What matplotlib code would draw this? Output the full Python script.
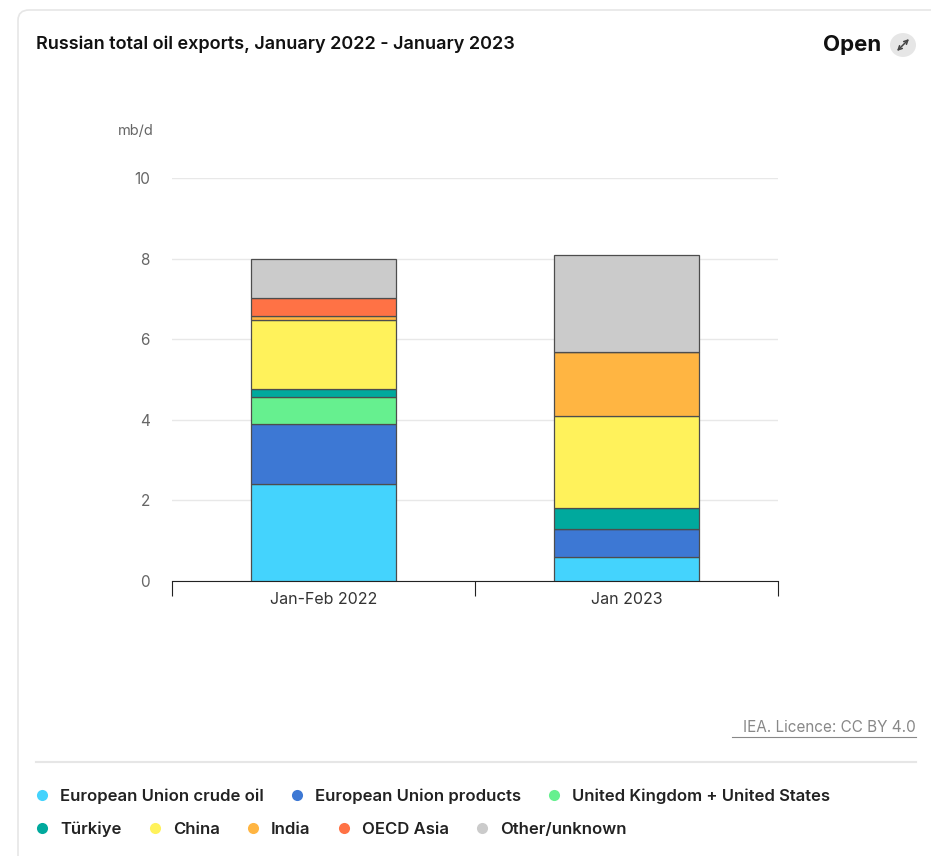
import numpy as np
import matplotlib.pyplot as plt
from matplotlib.lines import Line2D
from matplotlib.patches import FancyBboxPatch

plt.rcParams['font.family'] = ['Inter', 'DejaVu Sans']

categories = ["Jan-Feb 2022", "Jan 2023"]
series = ["European Union crude oil", "European Union products", "United Kingdom + United States",
          "Türkiye", "China", "India", "OECD Asia", "Other/unknown"]
values = {
    "European Union crude oil": [2.41, 0.60],
    "European Union products": [1.49, 0.70],
    "United Kingdom + United States": [0.67, 0.0],
    "Türkiye": [0.20, 0.50],
    "China": [1.71, 2.30],
    "India": [0.09, 1.58],
    "OECD Asia": [0.45, 0.0],
    "Other/unknown": [0.98, 2.42],
}
colors = ["#44d3fd", "#3d78d4", "#66f08f", "#00a99d", "#fff25b", "#ffb542", "#ff7245", "#cbcbcb"]
yticks = [0, 2, 4, 6, 8, 10]

W, H = 931, 856
fig = plt.figure(figsize=(W / 100, H / 100), dpi=100)
fig.patch.set_facecolor("white")

# card outline
card = FancyBboxPatch((18 / W, -0.2), (W + 40) / W, (H - 10) / H + 0.2,
                      boxstyle="round,pad=0,rounding_size=0.012", transform=fig.transFigure,
                      facecolor="white", edgecolor="#e6e6e6", linewidth=1.2, zorder=-5)
fig.patches.append(card)

ax = fig.add_axes([172 / W, (H - 581) / H, (778 - 172) / W, (581 - 178) / H])
ax.patch.set_alpha(0)
x = np.arange(len(categories))
bottom = np.zeros(len(categories))
for name, c in zip(series, colors):
    v = np.array(values[name])
    ax.bar(x, v, width=0.48, bottom=bottom, color=c, edgecolor="#4d4d4d", linewidth=0.9, zorder=3)
    bottom += v

ax.set_xlim(-0.5, 1.5)
ax.set_ylim(0, 10)
ax.set_yticks(yticks)
ax.set_yticklabels([str(t) for t in yticks], color="#666666", fontsize=11)
ax.tick_params(axis="y", length=0, pad=16)
ax.grid(axis="y", color="#e8e8e8", linewidth=1, zorder=0)
for s in ["top", "right", "left"]:
    ax.spines[s].set_visible(False)
ax.spines["bottom"].set_color("#222222")
ax.set_xticks([-0.5, 0.5, 1.5], minor=False)
ax.set_xticklabels([])
ax.tick_params(axis="x", length=11, color="#222222")
ax.set_xticks(x, minor=True)
ax.set_xticklabels(categories, minor=True, fontsize=11.5, color="#333333")
ax.tick_params(axis="x", which="minor", length=0, pad=8)

fig.text(118 / W, 1 - 131 / H, "mb/d", fontsize=10.5, color="#666666", va="center")
fig.text(36 / W, 1 - 44 / H, "Russian total oil exports, January 2022 - January 2023",
         fontsize=13, fontweight="semibold", color="#111111", va="center")
fig.text(823 / W, 1 - 45 / H, "Open", fontsize=16, fontweight="bold", color="#111111", va="center")
fig.patches.append(plt.Circle((903 / W, 1 - 45 / H), 13 / W, transform=fig.transFigure,
                              facecolor="#e6e6e6", edgecolor="none"))
# expand icon (double arrow)
fig.add_artist(plt.annotate("", xy=(909 / W, 1 - 39 / H), xytext=(897 / W, 1 - 51 / H),
                            xycoords="figure fraction", textcoords="figure fraction",
                            arrowprops=dict(arrowstyle="<->", color="#444444", lw=1.1,
                                            mutation_scale=7, shrinkA=0, shrinkB=0)))

fig.text(916 / W, 1 - 727 / H, "IEA. Licence: CC BY 4.0", fontsize=11, color="#888888",
         ha="right", va="center")
fig.add_artist(Line2D([732 / W, 916 / W], [1 - 737 / H, 1 - 737 / H], color="#888888", linewidth=0.8))
fig.add_artist(Line2D([36 / W, 916 / W], [1 - 762 / H, 1 - 762 / H], color="#e6e6e6", linewidth=1.5))

handles = [Line2D([], [], marker="o", linestyle="none", markersize=8, markerfacecolor=c,
                  markeredgecolor="none", label=n) for n, c in zip(series, colors)]
leg_kw = dict(frameon=False, fontsize=12, handletextpad=0.58, handlelength=1.0, borderaxespad=0,
              borderpad=0, columnspacing=1.5)
l1 = fig.legend(handles=handles[:3], ncol=3, loc="center left", bbox_to_anchor=(33.7 / W, 1 - 796 / H),
                **leg_kw)
l2 = fig.legend(handles=handles[3:], ncol=5, loc="center left", bbox_to_anchor=(33.7 / W, 1 - 829 / H),
                **leg_kw)
for leg in (l1, l2):
    for t in leg.get_texts():
        t.set_fontweight("semibold")
        t.set_color("#222222")

fig.savefig("out.png", dpi=100)
